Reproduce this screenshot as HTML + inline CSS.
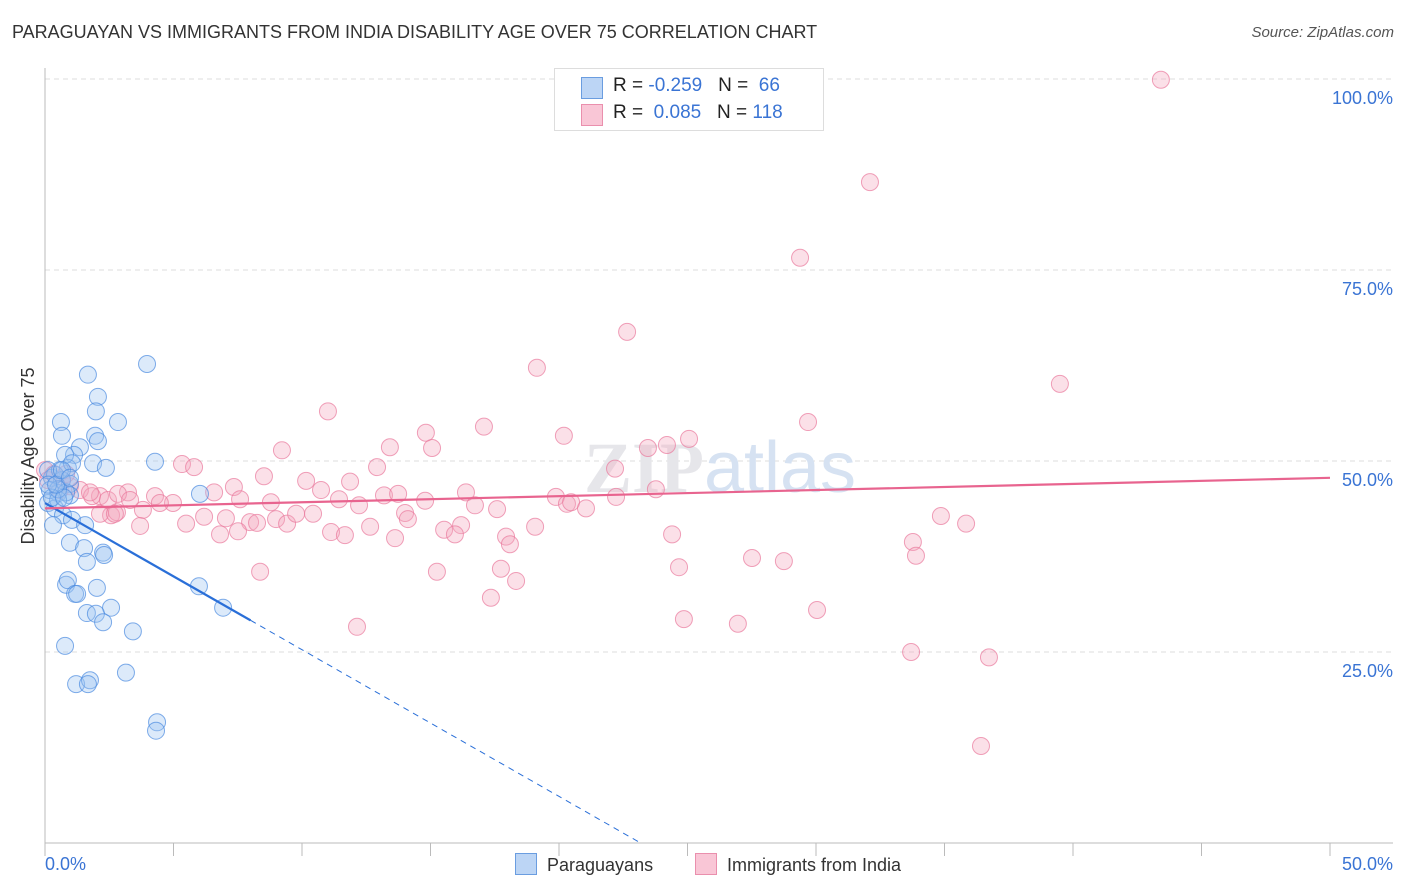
<!DOCTYPE html>
<html><head><meta charset="utf-8"><style>
body{margin:0;background:#fff;font-family:"Liberation Sans",Arial,sans-serif;}
#wrap{position:relative;width:1406px;height:892px;overflow:hidden;}
.t{position:absolute;white-space:nowrap;}
</style></head><body>
<div id="wrap">
<div class="t" style="left:12px;top:22px;font-size:18px;color:#333;">PARAGUAYAN VS IMMIGRANTS FROM INDIA DISABILITY AGE OVER 75 CORRELATION CHART</div>
<div class="t" style="right:12px;top:24px;font-size:15px;color:#555;font-style:italic;">Source: ZipAtlas.com</div>
<svg id="svg" width="1406" height="892" style="position:absolute;left:0;top:0"></svg>
</div>
<script>
const xTicks=[0,5,10,15,20,25,30,35,40,45,50];
const yTicks=[25,50,75,100];
const blueX=[1.67,3.97,2.06,1.98,0.62,2.84,0.66,1.95,1.36,2.06,1.13,4.28,1.87,2.37,0.89,0.27,0.66,0.97,0.51,6.03,0.97,0.12,0.39,0.70,1.05,0.31,1.56,0.97,1.52,2.26,2.30,1.63,0.82,0.89,2.02,1.17,1.25,2.57,1.63,1.98,2.26,3.42,5.99,6.93,0.78,3.15,1.21,1.75,1.67,4.36,4.32,0.39,0.58,0.19,0.82,0.51,0.12,0.78,1.05,0.51,0.27,0.74,0.12,0.43,0.66,0.97];
const blueY=[61.3,62.7,58.4,56.5,55.1,55.1,53.3,53.3,51.8,52.6,50.8,49.9,49.7,49.1,49.1,47.8,47.5,47.0,45.8,45.7,45.5,44.5,43.8,42.9,42.3,41.6,41.6,39.3,38.6,38.0,37.7,36.8,33.8,34.4,33.4,32.6,32.6,30.8,30.1,30.0,28.9,27.7,33.6,30.8,25.8,22.3,20.8,21.3,20.8,15.8,14.7,48.2,48.8,46.2,45.9,44.9,48.8,50.8,49.7,46.3,45.2,45.2,46.9,46.9,48.8,47.8];
const pinkX=[43.42,32.10,29.38,22.65,19.14,39.49,11.01,29.69,17.08,14.82,20.19,13.42,9.22,25.06,24.20,15.06,23.46,5.33,5.80,12.92,8.52,22.18,10.16,11.87,7.35,6.58,3.23,2.14,4.28,4.98,7.59,8.79,10.74,13.19,13.74,14.79,11.44,12.22,16.38,16.73,17.59,19.88,20.31,20.47,21.05,22.22,23.77,3.81,4.47,6.19,5.49,7.04,7.98,8.99,9.42,9.77,10.43,14.01,14.12,2.57,2.80,6.81,7.51,8.25,11.13,11.67,12.65,13.62,15.53,16.19,15.95,17.94,18.09,19.07,24.40,27.51,28.75,33.77,33.89,34.86,35.84,8.37,15.25,17.74,18.33,24.67,17.35,24.86,26.96,30.04,12.14,33.70,36.73,36.42,0,0.35,0.66,0.97,0.58,1.36,1.83,2.45,3.70,0.12,0.82,1.75,2.84,2.14,2.72,3.31];
const pinkY=[99.9,86.5,76.6,66.9,62.2,60.1,56.5,55.1,54.5,53.7,53.3,51.8,51.4,52.9,52.1,51.7,51.7,49.6,49.2,49.2,48.0,49.0,47.4,47.3,46.6,45.9,45.9,45.4,45.4,44.5,45.0,44.6,46.2,45.5,45.7,44.8,45.0,44.2,45.9,44.2,43.7,45.3,44.4,44.6,43.8,45.3,46.3,43.6,44.5,42.7,41.8,42.5,42.0,42.4,41.8,43.1,43.1,43.2,42.4,42.9,43.3,40.4,40.8,41.9,40.7,40.3,41.4,39.9,41.0,41.6,40.4,40.1,39.1,41.4,40.4,37.3,36.9,39.4,37.6,42.8,41.8,35.5,35.5,35.9,34.3,36.1,32.1,29.3,28.7,30.5,28.3,25.0,24.3,12.7,48.8,48.3,47.5,46.7,46.2,46.2,45.4,44.9,41.5,47.5,48.3,45.9,45.7,43.1,43.1,44.9];
const blueTrend=[44.5,-1.92];
const pinkTrend=[43.8,0.08];
const X0=45,X1=1330,Y0=843,Y100=79;
const sx=v=>X0+(X1-X0)*v/50;
const sy=v=>Y0-(Y0-Y100)*v/100;
const NS="http://www.w3.org/2000/svg";
const svg=document.getElementById('svg');
function mk(tag,attrs,parent){const e=document.createElementNS(NS,tag);for(const k in attrs)e.setAttribute(k,attrs[k]);(parent||svg).appendChild(e);return e;}
// gridlines
yTicks.forEach(v=>{
 const g=mk('line',{x1:X0,x2:1393,y1:sy(v),y2:sy(v),stroke:'#ddd','stroke-dasharray':'5,4'});
 
 
 const t=mk('text',{x:1393,y:sy(v)+25,'text-anchor':'end','font-size':18,fill:'#3a74d4','font-family':'Liberation Sans, sans-serif'});
 t.textContent=v.toFixed(1)+'%';
 
 
});
mk('line',{x1:X0,x2:X0,y1:68,y2:Y0,stroke:'#bbb'});
mk('line',{x1:X0,x2:1393,y1:Y0,y2:Y0,stroke:'#bbb'});
xTicks.forEach(v=>{
 const l=mk('line',{x1:sx(v),x2:sx(v),y1:Y0,y2:Y0+13,stroke:'#bbb'});
 
 
});
[[0,'start',45],[50,'end',1393]].forEach(([v,a,x])=>{
 const t=mk('text',{x:x,y:870,'text-anchor':a,'font-size':18,fill:'#3a74d4','font-family':'Liberation Sans, sans-serif'});
 t.textContent=v.toFixed(1)+'%';
 
 
});
const yl=mk('text',{x:34,y:456,transform:'rotate(-90 34 456)','text-anchor':'middle','font-size':18,fill:'#333','font-family':'Liberation Sans, sans-serif'});
yl.textContent='Disability Age Over 75';


// watermark
const wm=mk('text',{x:720,y:492,'text-anchor':'middle','font-size':72,fill:'#e6e6ea','font-family':'Liberation Serif, serif','font-weight':'bold'});
wm.innerHTML='ZIP<tspan fill="#d6e2f2" font-family="Liberation Sans, sans-serif" font-weight="normal">atlas</tspan>';


function pts(xs,ys,fill,stroke,name){
 xs.forEach((x,i)=>{
  const c=mk('circle',{cx:sx(x),cy:sy(ys[i]),r:8.5,fill:fill,'fill-opacity':0.35,stroke:stroke,'stroke-opacity':0.7,'stroke-width':1});
  
  
 });
}
pts(pinkX,pinkY,'#f4a6bd','#e9799c','india-point');
pts(blueX,blueY,'#9cc2f0','#4a8ae0','paraguayan-point');
// trends
const bx1=8;
const bt=mk('line',{x1:sx(0),y1:sy(blueTrend[0]),x2:sx(bx1),y2:sy(blueTrend[0]+blueTrend[1]*bx1),stroke:'#2a6fd8','stroke-width':2.2});


const bx2=23.2;
const bd=mk('line',{x1:sx(bx1),y1:sy(blueTrend[0]+blueTrend[1]*bx1),x2:sx(bx2),y2:sy(blueTrend[0]+blueTrend[1]*bx2),stroke:'#2a6fd8','stroke-width':1,'stroke-dasharray':'6,5'});


const pt=mk('line',{x1:sx(0),y1:sy(pinkTrend[0]),x2:sx(50),y2:sy(pinkTrend[0]+pinkTrend[1]*50),stroke:'#e8648f','stroke-width':2.2});


</script>
<div class="t" style="left:554px;top:68px;width:268px;height:61px;border:1px solid #ddd;background:#fff;">
 <div style="position:absolute;left:26px;top:8px;width:20px;height:20px;background:#bcd5f5;border:1px solid #6a9de0;"></div>
 <div style="position:absolute;left:26px;top:35px;width:20px;height:20px;background:#f9c6d6;border:1px solid #ea8fad;"></div>
 <div style="position:absolute;left:58px;top:6px;font-size:19px;color:#222;">R = <span style="color:#3a74d4">-0.259</span>&nbsp;&nbsp;&nbsp;N = &nbsp;<span style="color:#3a74d4">66</span></div>
 <div style="position:absolute;left:58px;top:33px;font-size:19px;color:#222;">R = &nbsp;<span style="color:#3a74d4">0.085</span>&nbsp;&nbsp;&nbsp;N = <span style="color:#3a74d4">118</span></div>
</div>
<div class="t" style="left:515px;top:853px;font-size:18px;color:#333;"><span style="display:inline-block;width:20px;height:20px;background:#bcd5f5;border:1px solid #6a9de0;vertical-align:-4px;margin-right:10px;"></span>Paraguayans</div>
<div class="t" style="left:695px;top:853px;font-size:18px;color:#333;"><span style="display:inline-block;width:20px;height:20px;background:#f9c6d6;border:1px solid #ea8fad;vertical-align:-4px;margin-right:10px;"></span>Immigrants from India</div>
</body></html>
